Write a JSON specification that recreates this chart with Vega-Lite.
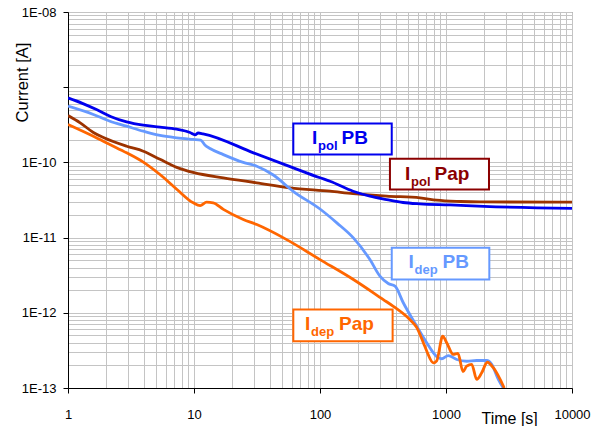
{
  "$schema": "https://vega.github.io/schema/vega-lite/v6.json",
  "width": 504,
  "height": 376,
  "autosize": {"type": "none"},
  "padding": {"left": 68, "top": 12, "right": 32, "bottom": 38},
  "background": "white",
  "config": {"view": {"stroke": "#666666", "strokeWidth": 1}, "font": "Liberation Sans"},
  "datasets": {
    "curves": [
      {"series": "Ipol Pap", "t": 1, "I": 4.2e-10},
      {"series": "Ipol Pap", "t": 1.25, "I": 3.36e-10},
      {"series": "Ipol Pap", "t": 1.59, "I": 2.5e-10},
      {"series": "Ipol Pap", "t": 1.91, "I": 2.14e-10},
      {"series": "Ipol Pap", "t": 2.92, "I": 1.64e-10},
      {"series": "Ipol Pap", "t": 3.96, "I": 1.41e-10},
      {"series": "Ipol Pap", "t": 5.37, "I": 1.1e-10},
      {"series": "Ipol Pap", "t": 7.29, "I": 8.6e-11},
      {"series": "Ipol Pap", "t": 10, "I": 7.3e-11},
      {"series": "Ipol Pap", "t": 17.1, "I": 6.24e-11},
      {"series": "Ipol Pap", "t": 31.5, "I": 5.35e-11},
      {"series": "Ipol Pap", "t": 57.8, "I": 4.59e-11},
      {"series": "Ipol Pap", "t": 120, "I": 4.14e-11},
      {"series": "Ipol Pap", "t": 183, "I": 3.85e-11},
      {"series": "Ipol Pap", "t": 338, "I": 3.56e-11},
      {"series": "Ipol Pap", "t": 622, "I": 3.38e-11},
      {"series": "Ipol Pap", "t": 844, "I": 3.14e-11},
      {"series": "Ipol Pap", "t": 1300, "I": 3.02e-11},
      {"series": "Ipol Pap", "t": 1862, "I": 2.98e-11},
      {"series": "Ipol Pap", "t": 10000, "I": 2.96e-11},

      {"series": "Ipol PB", "t": 1, "I": 7.2e-10},
      {"series": "Ipol PB", "t": 1.3, "I": 6.1e-10},
      {"series": "Ipol PB", "t": 1.7, "I": 5.0e-10},
      {"series": "Ipol PB", "t": 2.2, "I": 4.05e-10},
      {"series": "Ipol PB", "t": 2.92, "I": 3.45e-10},
      {"series": "Ipol PB", "t": 3.96, "I": 3.12e-10},
      {"series": "Ipol PB", "t": 5.37, "I": 2.95e-10},
      {"series": "Ipol PB", "t": 7.29, "I": 2.76e-10},
      {"series": "Ipol PB", "t": 9.29, "I": 2.5e-10},
      {"series": "Ipol PB", "t": 10.2, "I": 2.33e-10},
      {"series": "Ipol PB", "t": 10.8, "I": 2.46e-10},
      {"series": "Ipol PB", "t": 11.8, "I": 2.4e-10},
      {"series": "Ipol PB", "t": 30, "I": 1.33e-10},
      {"series": "Ipol PB", "t": 60, "I": 8.6e-11},
      {"series": "Ipol PB", "t": 100, "I": 6.24e-11},
      {"series": "Ipol PB", "t": 120, "I": 5.62e-11},
      {"series": "Ipol PB", "t": 183, "I": 4.14e-11},
      {"series": "Ipol PB", "t": 249, "I": 3.56e-11},
      {"series": "Ipol PB", "t": 338, "I": 3.21e-11},
      {"series": "Ipol PB", "t": 456, "I": 2.93e-11},
      {"series": "Ipol PB", "t": 622, "I": 2.81e-11},
      {"series": "Ipol PB", "t": 1076, "I": 2.72e-11},
      {"series": "Ipol PB", "t": 2000, "I": 2.6e-11},
      {"series": "Ipol PB", "t": 10000, "I": 2.44e-11},

      {"series": "Idep PB", "t": 1, "I": 5.6e-10},
      {"series": "Idep PB", "t": 1.59, "I": 4.34e-10},
      {"series": "Idep PB", "t": 2.15, "I": 3.53e-10},
      {"series": "Idep PB", "t": 2.92, "I": 3.03e-10},
      {"series": "Idep PB", "t": 3.96, "I": 2.6e-10},
      {"series": "Idep PB", "t": 5.37, "I": 2.28e-10},
      {"series": "Idep PB", "t": 7.29, "I": 2.12e-10},
      {"series": "Idep PB", "t": 9.87, "I": 2.02e-10},
      {"series": "Idep PB", "t": 11.3, "I": 1.98e-10},
      {"series": "Idep PB", "t": 12.2, "I": 1.7e-10},
      {"series": "Idep PB", "t": 13.4, "I": 1.53e-10},
      {"series": "Idep PB", "t": 17.1, "I": 1.27e-10},
      {"series": "Idep PB", "t": 24.6, "I": 1.0e-10},
      {"series": "Idep PB", "t": 31.5, "I": 8.9e-11},
      {"series": "Idep PB", "t": 42.6, "I": 6.8e-11},
      {"series": "Idep PB", "t": 61.6, "I": 4.1e-11},
      {"series": "Idep PB", "t": 100, "I": 2.4e-11},
      {"series": "Idep PB", "t": 136, "I": 1.57e-11},
      {"series": "Idep PB", "t": 184, "I": 9.9e-12},
      {"series": "Idep PB", "t": 249, "I": 5.1e-12},
      {"series": "Idep PB", "t": 299, "I": 3.07e-12},
      {"series": "Idep PB", "t": 348, "I": 2.45e-12},
      {"series": "Idep PB", "t": 394, "I": 2.26e-12},
      {"series": "Idep PB", "t": 458, "I": 1.36e-12},
      {"series": "Idep PB", "t": 585, "I": 6.64e-13},
      {"series": "Idep PB", "t": 703, "I": 3.99e-13},
      {"series": "Idep PB", "t": 844, "I": 2.62e-13},
      {"series": "Idep PB", "t": 925, "I": 2.45e-13},
      {"series": "Idep PB", "t": 1043, "I": 2.7e-13},
      {"series": "Idep PB", "t": 1216, "I": 2.39e-13},
      {"series": "Idep PB", "t": 1459, "I": 2.27e-13},
      {"series": "Idep PB", "t": 1753, "I": 2.32e-13},
      {"series": "Idep PB", "t": 2104, "I": 2.32e-13},
      {"series": "Idep PB", "t": 2305, "I": 2.06e-13},
      {"series": "Idep PB", "t": 2601, "I": 1.3e-13},
      {"series": "Idep PB", "t": 2850, "I": 1.0e-13},

      {"series": "Idep Pap", "t": 1, "I": 3.2e-10},
      {"series": "Idep Pap", "t": 1.59, "I": 2.23e-10},
      {"series": "Idep Pap", "t": 2.15, "I": 1.73e-10},
      {"series": "Idep Pap", "t": 2.92, "I": 1.34e-10},
      {"series": "Idep Pap", "t": 3.96, "I": 1.01e-10},
      {"series": "Idep Pap", "t": 5.37, "I": 6.9e-11},
      {"series": "Idep Pap", "t": 7.29, "I": 4.4e-11},
      {"series": "Idep Pap", "t": 9.87, "I": 2.9e-11},
      {"series": "Idep Pap", "t": 11.2, "I": 2.67e-11},
      {"series": "Idep Pap", "t": 12.6, "I": 2.96e-11},
      {"series": "Idep Pap", "t": 14.2, "I": 2.9e-11},
      {"series": "Idep Pap", "t": 17.1, "I": 2.37e-11},
      {"series": "Idep Pap", "t": 24.6, "I": 1.74e-11},
      {"series": "Idep Pap", "t": 31.5, "I": 1.49e-11},
      {"series": "Idep Pap", "t": 54.4, "I": 9.4e-12},
      {"series": "Idep Pap", "t": 100, "I": 5.1e-12},
      {"series": "Idep Pap", "t": 184, "I": 2.77e-12},
      {"series": "Idep Pap", "t": 318, "I": 1.5e-12},
      {"series": "Idep Pap", "t": 382, "I": 1.22e-12},
      {"series": "Idep Pap", "t": 518, "I": 8.1e-13},
      {"series": "Idep Pap", "t": 585, "I": 6.4e-13},
      {"series": "Idep Pap", "t": 661, "I": 4.0e-13},
      {"series": "Idep Pap", "t": 703, "I": 3.1e-13},
      {"series": "Idep Pap", "t": 793, "I": 2.16e-13},
      {"series": "Idep Pap", "t": 844, "I": 2.3e-13},
      {"series": "Idep Pap", "t": 942, "I": 4.9e-13},
      {"series": "Idep Pap", "t": 1013, "I": 4.0e-13},
      {"series": "Idep Pap", "t": 1143, "I": 2.8e-13},
      {"series": "Idep Pap", "t": 1245, "I": 2.88e-13},
      {"series": "Idep Pap", "t": 1364, "I": 1.65e-13},
      {"series": "Idep Pap", "t": 1459, "I": 1.95e-13},
      {"series": "Idep Pap", "t": 1600, "I": 2.06e-13},
      {"series": "Idep Pap", "t": 1753, "I": 1.3e-13},
      {"series": "Idep Pap", "t": 1920, "I": 1.59e-13},
      {"series": "Idep Pap", "t": 2128, "I": 2.2e-13},
      {"series": "Idep Pap", "t": 2373, "I": 1.86e-13},
      {"series": "Idep Pap", "t": 2900, "I": 1.0e-13}
    ],
    "labels": [
      {"series": "Ipol PB", "sub": "pol", "main": "PB", "t": 86.4, "I": 1.73e-10, "bx1": 61.4, "bx2": 371, "by1": 3.29e-10, "by2": 1.27e-10},
      {"series": "Ipol Pap label", "sub": "pol", "main": "Pap", "t": 473, "I": 5.8e-11, "bx1": 359, "bx2": 2194, "by1": 1.12e-10, "by2": 4.37e-11},
      {"series": "Idep PB", "sub": "dep", "main": "PB", "t": 504, "I": 3.96e-12, "bx1": 371, "bx2": 2207, "by1": 7.31e-12, "by2": 2.77e-12},
      {"series": "Idep Pap", "sub": "dep", "main": "Pap", "t": 76, "I": 5.87e-13, "bx1": 61.4, "bx2": 377, "by1": 1.11e-12, "by2": 4.19e-13}
    ]
  },
  "layer": [
    {
      "data": {"name": "curves"},
      "mark": {"type": "line", "interpolate": "monotone", "strokeWidth": 2.8, "clip": true},
      "encoding": {
        "x": {
          "field": "t", "type": "quantitative",
          "scale": {"type": "log", "domain": [1, 10000], "nice": false},
          "axis": {
            "values": [1,2,3,4,5,6,7,8,9,10,20,30,40,50,60,70,80,90,100,200,300,400,500,600,700,800,900,1000,2000,3000,4000,5000,6000,7000,8000,9000,10000],
            "title": "Time [s]", "titleFont": "Liberation Sans", "titleFontSize": 16, "titleFontWeight": "normal", "titleColor": "black",
            "titleAlign": "left", "titleBaseline": "alphabetic", "titleX": 413, "titleY": 35,
            "grid": true, "gridColor": "#c4c4c4", "gridWidth": 1,
            "domainColor": "black", "domainWidth": 1,
            "tickColor": "black", "tickSize": 5, "tickWidth": 1,
            "tickOpacity": {"condition": {"test": "abs(log(datum.value)/LN10 - round(log(datum.value)/LN10)) < 0.001", "value": 1}, "value": 0},
            "labelExpr": "abs(log(datum.value)/LN10 - round(log(datum.value)/LN10)) < 0.001 ? format(datum.value, 'd') : ''",
            "labelFont": "Liberation Sans", "labelFontSize": 13, "labelColor": "black", "labelPadding": 15,
            "labelOverlap": false, "labelBound": false, "labelFlush": false
          }
        },
        "y": {
          "field": "I", "type": "quantitative",
          "scale": {"type": "log", "domain": [1e-13, 1e-8], "nice": false},
          "axis": {
            "values": [1e-13,2e-13,3e-13,4e-13,5e-13,6e-13,7e-13,8e-13,9e-13,1e-12,2e-12,3e-12,4e-12,5e-12,6e-12,7e-12,8e-12,9e-12,1e-11,2e-11,3e-11,4e-11,5e-11,6e-11,7e-11,8e-11,9e-11,1e-10,2e-10,3e-10,4e-10,5e-10,6e-10,7e-10,8e-10,9e-10,1e-9,2e-9,3e-9,4e-9,5e-9,6e-9,7e-9,8e-9,9e-9,1e-8],
            "title": "Current [A]", "titleFont": "Liberation Sans", "titleFontSize": 16.5, "titleFontWeight": "normal", "titleColor": "black",
            "titleAngle": 270, "titleAlign": "center", "titleBaseline": "middle", "titleX": -46, "titleY": 70,
            "grid": true, "gridColor": "#c4c4c4", "gridWidth": 1,
            "domainColor": "black", "domainWidth": 1,
            "tickColor": "black", "tickSize": 5, "tickWidth": 1,
            "tickOpacity": {"condition": {"test": "abs(log(datum.value)/LN10 - round(log(datum.value)/LN10)) < 0.001", "value": 1}, "value": 0},
            "labelExpr": "abs(log(datum.value)/LN10 - round(log(datum.value)/LN10)) < 0.001 && abs(log(datum.value)/LN10 + 9) > 0.01 ? '1E-' + format(-round(log(datum.value)/LN10), '02d') : ''",
            "labelFont": "Liberation Sans", "labelFontSize": 13, "labelColor": "black", "labelPadding": 7,
            "labelOverlap": false, "labelBound": false, "labelFlush": false
          }
        },
        "color": {
          "field": "series", "type": "nominal",
          "scale": {"domain": ["Ipol Pap", "Ipol PB", "Idep PB", "Idep Pap", "Ipol Pap label"], "range": ["#9c3300", "#0000ee", "#6699ff", "#ff6600", "#8b0000"]},
          "legend": null
        }
      }
    },
    {
      "data": {"name": "labels"},
      "mark": {"type": "rect", "fill": "white", "strokeWidth": 2},
      "encoding": {
        "x": {"field": "bx1", "type": "quantitative"},
        "x2": {"field": "bx2"},
        "y": {"field": "by1", "type": "quantitative"},
        "y2": {"field": "by2"},
        "stroke": {"field": "series", "type": "nominal", "scale": {"domain": ["Ipol Pap", "Ipol PB", "Idep PB", "Idep Pap", "Ipol Pap label"], "range": ["#9c3300", "#0000ee", "#6699ff", "#ff6600", "#8b0000"]}, "legend": null}
      }
    },
    {
      "data": {"name": "labels"},
      "mark": {"type": "text", "text": "I", "align": "left", "baseline": "alphabetic", "font": "Liberation Sans", "fontSize": 19, "fontWeight": "bold"},
      "encoding": {
        "x": {"field": "t", "type": "quantitative"},
        "y": {"field": "I", "type": "quantitative"},
        "color": {"field": "series", "type": "nominal", "legend": null}
      }
    },
    {
      "data": {"name": "labels"},
      "mark": {"type": "text", "align": "left", "baseline": "alphabetic", "font": "Liberation Sans", "fontSize": 13, "fontWeight": "bold", "dx": 6, "dy": 6},
      "encoding": {
        "x": {"field": "t", "type": "quantitative"},
        "y": {"field": "I", "type": "quantitative"},
        "text": {"field": "sub"},
        "color": {"field": "series", "type": "nominal", "legend": null}
      }
    },
    {
      "data": {"name": "labels"},
      "mark": {"type": "text", "align": "left", "baseline": "alphabetic", "font": "Liberation Sans", "fontSize": 19, "fontWeight": "bold", "dx": {"expr": "datum.sub === 'dep' ? 34 : 29.5"}},
      "encoding": {
        "x": {"field": "t", "type": "quantitative"},
        "y": {"field": "I", "type": "quantitative"},
        "text": {"field": "main"},
        "color": {"field": "series", "type": "nominal", "legend": null}
      }
    }
  ]
}
